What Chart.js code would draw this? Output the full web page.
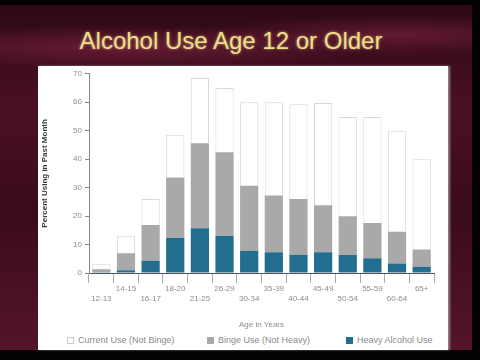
<!DOCTYPE html>
<html>
<head>
<meta charset="utf-8">
<script src="https://cdn.jsdelivr.net/npm/chart.js@4.4.1/dist/chart.umd.min.js"></script>
<style>
  body{margin:0;width:480px;height:360px;overflow:hidden;background:#050203;font-family:"Liberation Sans",Arial,sans-serif;}
  .slide{position:absolute;left:0;top:5px;width:472px;height:345px;
    background:
      radial-gradient(ellipse 260px 22px at 120px 42px, rgba(140,40,75,0.55), rgba(140,40,75,0) 100%),
      radial-gradient(ellipse 200px 20px at 400px 30px, rgba(140,40,75,0.5), rgba(140,40,75,0) 100%),
      linear-gradient(180deg,#2e0915 0%,#4a1024 30%,#3a0b1b 60%,#55142b 100%);}
  h1{position:absolute;left:0;top:27px;width:462px;margin:0;text-align:center;
    font:24px "Liberation Sans",Arial,sans-serif;color:#ecdf8a;
    text-shadow:0 0 3px rgba(255,240,150,0.6);}
  .panel{position:absolute;left:38px;top:66px;width:410px;height:284px;background:#fff;
    box-shadow:2px 0 2px rgba(200,200,200,0.6);}
  .chart-box{position:absolute;left:0;top:0;width:410px;height:264px;}
  .legend{position:absolute;top:269px;left:0;width:410px;height:12px;font-size:9px;color:#8a8a8a;}
  .legend span{position:absolute;top:0;white-space:nowrap;line-height:10px;}
  .legend i{display:inline-block;width:7px;height:7px;margin-right:4px;vertical-align:-1px;box-sizing:border-box;}
</style>
</head>
<body>
<div class="slide"></div>
<h1>Alcohol Use Age 12 or Older</h1>
<div class="panel">
  <div class="chart-box"><canvas id="alcohol-chart" width="410" height="264"></canvas></div>
  <div class="legend" id="legend"></div>
</div>
<script>
const ageGroups = ["12-13","14-15","16-17","18-20","21-25","26-29","30-34","35-39","40-44","45-49","50-54","55-59","60-64","65+"];

// percent of each age group, one value per stacked segment
const heavyUse = [0.3, 1.0, 4.3, 12.3, 15.7, 13.0, 7.8, 7.3, 6.4, 7.3, 6.3, 5.2, 3.3, 2.2];
const bingeNotHeavy = [1.0, 5.9, 12.6, 21.3, 29.9, 29.4, 22.9, 19.9, 19.6, 16.5, 13.6, 12.4, 11.2, 6.1];
const currentNotBinge = [1.8, 6.2, 9.1, 15.0, 22.9, 22.6, 29.3, 32.8, 33.3, 35.9, 34.9, 37.2, 35.5, 31.7];

const yTicks = [0, 10, 20, 30, 40, 50, 60, 70];

const legendItems = [
  {text:"Current Use (Not Binge)", fill:"#fff", border:"#c8c8c8", left:29},
  {text:"Binge Use (Not Heavy)", fill:"#a9a9a9", border:"#a9a9a9", left:169},
  {text:"Heavy Alcohol Use", fill:"#236e8f", border:"#236e8f", left:308}
];

const ctx = document.getElementById("alcohol-chart");
const tickColor = "#8c8c8c";

// alternate the age labels on two rows
const twoRowLabels = ageGroups.map((age, i) => i % 2 === 0 ? ["", age] : [age, ""]);

let alcoholChart = new Chart(ctx, {
  type: "bar",
  data: {
    labels: twoRowLabels,
    datasets: [
      {label:"Heavy Alcohol Use", data: heavyUse, backgroundColor:"#236e8f", borderWidth:0},
      {label:"Binge Use (Not Heavy)", data: bingeNotHeavy, backgroundColor:"#a9a9a9", borderWidth:0},
      {label:"Current Use (Not Binge)", data: currentNotBinge, backgroundColor:"#ffffff", borderColor:"#d8d8d8", borderWidth:1}
    ]
  },
  options: {
    responsive: false,
    animation: false,
    devicePixelRatio: 1,
    layout: {padding: {top: 0, right: 14, bottom: 0, left: 0}},
    plugins: {
      legend: {display: false},
      tooltip: {enabled: false}
    },
    datasets: {bar: {barPercentage: 0.74, categoryPercentage: 1}},
    scales: {
      x: {
        stacked: true,
        grid: {display: true, drawOnChartArea: false, tickLength: 10, color: "#aaa", offset: true},
        border: {display: true, color: "#555", width: 1},
        ticks: {autoSkip: false, maxRotation: 0, padding: 0, color: tickColor,
          font: {family: "Liberation Sans", size: 8, lineHeight: 1.35}},
        title: {display: true, text: "Age in Years", color: tickColor,
          font: {family: "Liberation Sans", size: 8}, padding: {top: 6, bottom: 0}},
        afterFit: (scale) => { scale.height = 57; }
      },
      y: {
        stacked: true,
        min: 0,
        max: 70,
        afterBuildTicks: (scale) => { scale.ticks = yTicks.map(v => ({value: v})); },
        grid: {display: true, drawOnChartArea: false, tickLength: 4, color: "#888"},
        border: {display: true, color: "#888", width: 1},
        ticks: {padding: 3, color: tickColor, font: {family: "Liberation Sans", size: 8}},
        title: {display: true, text: "Percent Using in Past Month", color: "#3a3a3a",
          font: {family: "Liberation Sans", size: 8, weight: "bold"}, padding: {top: 2, bottom: 0}},
        afterFit: (scale) => { scale.width = 51; }
      }
    }
  }
});

const legend = document.getElementById("legend");
legendItems.forEach((item) => {
  const span = document.createElement("span");
  span.style.left = item.left + "px";
  span.innerHTML = `<i style="background:${item.fill};border:1px solid ${item.border}"></i>${item.text}`;
  legend.appendChild(span);
});
</script>
</body>
</html>
